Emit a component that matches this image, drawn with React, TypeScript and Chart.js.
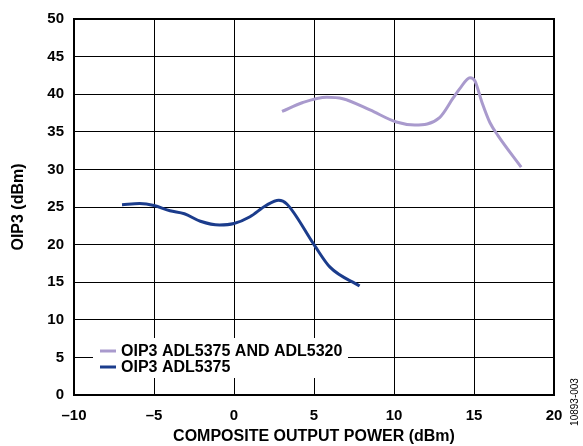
import React, { useEffect, useRef } from "react";
import { Chart, registerables } from "chart.js";

Chart.register(...registerables);

const seriesNames = ["OIP3 ADL5375 AND ADL5320", "OIP3 ADL5375"];

const purpleX = [3.0, 4.3, 5.8, 6.8, 8.5, 10.15, 11.3, 12.85, 13.7, 14.1, 14.75, 15.05, 15.5, 16.0, 16.5, 17.95];
const purpleY = [37.7, 38.9, 39.6, 39.4, 37.9, 36.3, 35.9, 36.9, 39.5, 40.7, 42.2, 41.8, 38.9, 36.2, 34.5, 30.3];

const blueX = [-7.0, -5.9, -5.0, -4.0, -3.1, -2.1, -0.9, 0.0, 1.0, 2.0, 2.8, 3.3, 5.0, 6.0, 7.85];
const blueY = [25.3, 25.45, 25.2, 24.5, 24.1, 23.1, 22.6, 22.8, 23.7, 25.2, 25.9, 25.4, 20.0, 17.0, 14.5];

const xTitle = "COMPOSITE OUTPUT POWER (dBm)";
const yTitle = "OIP3 (dBm)";
const figureId = "10893-003";

const PURPLE = "#a99acd";
const BLUE = "#1b3c8c";
const FONT = "'Liberation Sans', Arial, Helvetica, sans-serif";

const fmt = (v: number | string) => String(v).replace("-", "\u2013");

const framePlugin = {
  id: "frame",
  afterDraw(chart: any) {
    const { ctx, chartArea: a } = chart;
    ctx.save();
    // legend box
    const lx = 93, ly = 338, lw = 255, lh = 40;
    ctx.fillStyle = "#ffffff";
    ctx.fillRect(lx, ly, lw, lh);
    const items = [
      { label: seriesNames[0], color: PURPLE, y: 351 },
      { label: seriesNames[1], color: BLUE, y: 367 },
    ];
    ctx.font = `bold 16px ${FONT}`;
    ctx.textBaseline = "middle";
    ctx.textAlign = "left";
    for (const it of items) {
      ctx.strokeStyle = it.color;
      ctx.lineWidth = 3;
      ctx.beginPath();
      ctx.moveTo(100, it.y);
      ctx.lineTo(116, it.y);
      ctx.stroke();
      ctx.fillStyle = "#000";
      ctx.fillText(it.label, 121, it.y + 1);
    }
    // frame
    ctx.strokeStyle = "#000";
    ctx.lineWidth = 2;
    ctx.strokeRect(a.left, a.top, a.right - a.left, a.bottom - a.top);
    // figure id
    ctx.translate(575, 402);
    ctx.rotate(-Math.PI / 2);
    ctx.font = `10px ${FONT}`;
    ctx.textAlign = "center";
    ctx.fillStyle = "#000";
    ctx.fillText(figureId, 0, 0);
    ctx.restore();
  },
};

export default function App() {
  const ref = useRef<HTMLCanvasElement>(null);
  useEffect(() => {
    document.body.style.margin = "0";
    const chart = new Chart(ref.current as HTMLCanvasElement, {
      type: "line",
      data: {
        datasets: [
          {
            label: seriesNames[0],
            data: purpleX.map((x, i) => ({ x, y: purpleY[i] })),
            borderColor: PURPLE,
            backgroundColor: PURPLE,
            borderWidth: 3,
            pointRadius: 0,
            cubicInterpolationMode: "monotone",
          },
          {
            label: seriesNames[1],
            data: blueX.map((x, i) => ({ x, y: blueY[i] })),
            borderColor: BLUE,
            backgroundColor: BLUE,
            borderWidth: 3,
            pointRadius: 0,
            cubicInterpolationMode: "monotone",
          },
        ],
      },
      options: {
        animation: false,
        responsive: false,
        layout: { padding: { top: 12, right: 29, left: 0, bottom: 0 } },
        plugins: { legend: { display: false }, tooltip: { enabled: false } },
        scales: {
          x: {
            type: "linear",
            min: -10,
            max: 20,
            afterFit: (s: any) => { s.height = 51; },
            ticks: {
              stepSize: 5,
              callback: (v: any) => fmt(v),
              color: "#000",
              font: { family: FONT, size: 15, weight: "bold" },
              padding: 12,
              maxRotation: 0,
            },
            grid: { color: "#000", lineWidth: 1, drawTicks: false },
            border: { display: false },
            title: {
              display: true,
              text: xTitle,
              color: "#000",
              font: { family: FONT, size: 16, weight: "bold" },
              padding: { top: 0, bottom: 0 },
            },
          },
          y: {
            min: 0,
            max: 50,
            afterFit: (s: any) => { s.width = 74; },
            ticks: {
              stepSize: 5,
              color: "#000",
              font: { family: FONT, size: 15, weight: "bold" },
              padding: 10,
            },
            grid: { color: "#000", lineWidth: 1, drawTicks: false },
            border: { display: false },
            title: {
              display: true,
              text: yTitle,
              color: "#000",
              font: { family: FONT, size: 16, weight: "bold" },
              padding: { top: 9, bottom: 0 },
            },
          },
        },
      },
      plugins: [framePlugin],
    });
    return () => chart.destroy();
  }, []);
  return (
    <div style={{ position: "absolute", left: 0, top: 0, width: 583, height: 446 }}>
      <canvas ref={ref} width={583} height={446} />
    </div>
  );
}
